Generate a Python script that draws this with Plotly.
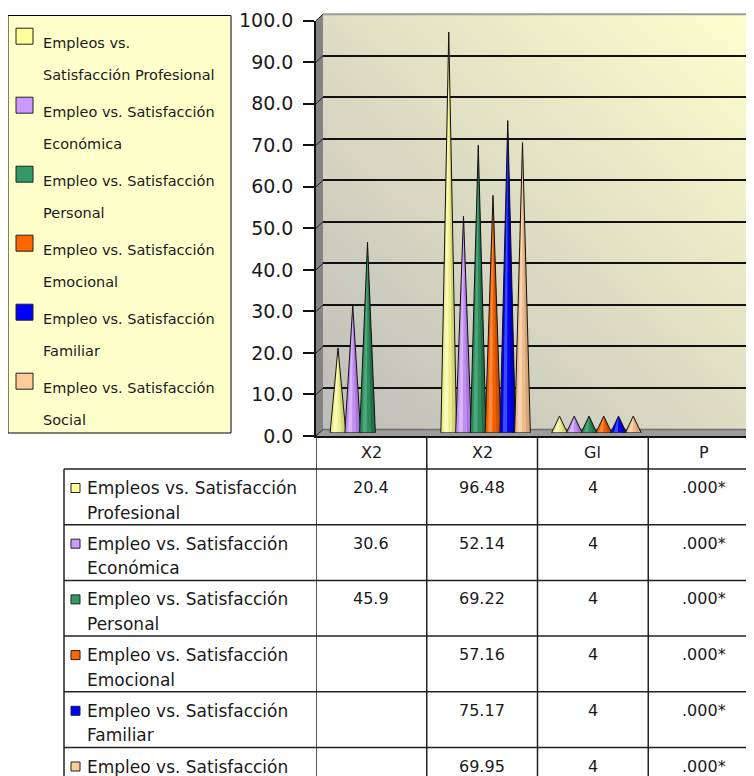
import base64
import struct
import zlib
import plotly.graph_objects as go

# ---------------- data ----------------
categories = ["X2", "X2", "Gl", "P"]
legend_labels = [
    ("Empleos vs.", "Satisfacción Profesional"),
    ("Empleo vs. Satisfacción", "Económica"),
    ("Empleo vs. Satisfacción", "Personal"),
    ("Empleo vs. Satisfacción", "Emocional"),
    ("Empleo vs. Satisfacción", "Familiar"),
    ("Empleo vs. Satisfacción", "Social"),
]
table_labels = [
    ("Empleos vs. Satisfacción", "Profesional"),
    ("Empleo vs. Satisfacción", "Económica"),
    ("Empleo vs. Satisfacción", "Personal"),
    ("Empleo vs. Satisfacción", "Emocional"),
    ("Empleo vs. Satisfacción", "Familiar"),
    ("Empleo vs. Satisfacción", "Social"),
]
chi2_first = [20.4, 30.6, 45.9, None, None, None]
chi2_second = [96.48, 52.14, 69.22, 57.16, 75.17, 69.95]
gl_values = [4, 4, 4, 4, 4, 4]
p_values = [0, 0, 0, 0, 0, 0]
p_labels = [".000*", ".000*", ".000*", ".000*", ".000*", ".000*"]
y_ticks = [0, 10, 20, 30, 40, 50, 60, 70, 80, 90, 100]

legend_colors = ["#FFFF99", "#CC99FF", "#339966", "#FF6600", "#0000FF", "#FFCC99"]
cone_base = ["#EDED8E", "#C08EEE", "#2F8A5C", "#F06000", "#0000EE", "#EEBC8C"]
cone_light = ["#FAFAB8", "#D9B5FF", "#4BA87A", "#FF8A3D", "#3A4BFF", "#FAD5B0"]
cone_dark = ["#D2D276", "#A877D8", "#236E48", "#CC4E00", "#0000B8", "#D6A676"]

columns = [chi2_first, chi2_second, gl_values, p_values]

# ---------------- geometry (screen pixels; page has an 8px body margin) ----------------
W, H = 754, 776
OFF = 8
FONT = "DejaVu Sans"
TXT = "#1a1a1a"


def px(x):
    return (x - OFF) / W


def py(y):
    return 1 - (y - OFF) / H


S = 4.153          # pixels per unit of value
FX, FY = 316, 436  # front-left-bottom corner
FX_END = 759       # right end of the category axis
CAT_W = (FX_END - FX) / 4
DX, DY = 7, 6.5    # depth offset of back wall

front_dom_x = [px(FX), px(FX_END)]
front_dom_y = [py(FY), py(FY - 100 * S)]
wall_dom_x = [px(FX + DX), 1]
wall_dom_y = [py(FY - DY), py(FY - DY - 100 * S)]
mid_dom_x = [px(FX + DX / 2), 1]
mid_dom_y = [py(FY - DY / 2), py(FY - DY / 2 - 100 * S)]
RIGHT = W + OFF    # screen x of the figure's right edge
BOTTOM = H + OFF   # screen y of the figure's bottom edge


def gradient_png(w, h, c0, c1):
    rows = []
    for j in range(h):
        row = bytearray([0])
        for i in range(w):
            t = (i / (w - 1) + (1 - j / (h - 1))) / 2
            for a, b in zip(c0, c1):
                row.append(int(round(a + (b - a) * t)))
        rows.append(bytes(row))
    raw = b"".join(rows)

    def chunk(tag, data):
        return (struct.pack(">I", len(data)) + tag + data
                + struct.pack(">I", zlib.crc32(tag + data) & 0xFFFFFFFF))

    png = (b"\x89PNG\r\n\x1a\n"
           + chunk(b"IHDR", struct.pack(">IIBBBBB", w, h, 8, 2, 0, 0, 0))
           + chunk(b"IDAT", zlib.compress(raw))
           + chunk(b"IEND", b""))
    return "data:image/png;base64," + base64.b64encode(png).decode()


fig = go.Figure()

fig.add_trace(go.Scatter(x=[None], y=[None], xaxis="x", yaxis="y",
                         showlegend=False, hoverinfo="skip"))
fig.add_trace(go.Scatter(x=[None], y=[None], xaxis="x2", yaxis="y2",
                         showlegend=False, hoverinfo="skip"))

# ---------------- cones ----------------
n_series = len(legend_labels)
d = 0.1332
hw = 0.071
for k in range(n_series):
    bx, by, lx, ly, rx, ry = [], [], [], [], [], []
    for i, col in enumerate(columns):
        v = col[k]
        if v is None or v <= 0:
            continue
        xc = i + 0.5 + (k - (n_series - 1) / 2) * d
        bx += [xc - hw, xc, xc + hw, xc - hw, None]
        by += [0, v, 0, 0, None]
        lx += [xc - 0.62 * hw, xc, xc - 0.08 * hw, None]
        ly += [0, v, 0, None]
        rx += [xc + 0.45 * hw, xc, xc + hw, None]
        ry += [0, v, 0, None]
    if not bx:
        continue
    fig.add_trace(go.Scatter(x=bx, y=by, xaxis="x3", yaxis="y3", mode="lines",
                             fill="toself", fillcolor=cone_base[k],
                             line=dict(width=0, color=cone_base[k]),
                             showlegend=False, hoverinfo="skip"))
    fig.add_trace(go.Scatter(x=lx, y=ly, xaxis="x3", yaxis="y3", mode="lines",
                             fill="toself", fillcolor=cone_light[k],
                             line=dict(width=0, color=cone_light[k]),
                             showlegend=False, hoverinfo="skip"))
    fig.add_trace(go.Scatter(x=rx, y=ry, xaxis="x3", yaxis="y3", mode="lines",
                             fill="toself", fillcolor=cone_dark[k],
                             line=dict(width=0, color=cone_dark[k]),
                             showlegend=False, hoverinfo="skip"))
    fig.add_trace(go.Scatter(x=bx, y=by, xaxis="x3", yaxis="y3", mode="lines",
                             line=dict(width=1, color="#111111"),
                             showlegend=False, hoverinfo="skip"))

shapes = []
annotations = []

# ---------------- 3D frame ----------------
shapes.append(dict(type="path", xref="paper", yref="paper", layer="below",
                   path=(f"M {px(FX)},{py(FY)} L {px(FX + DX)},{py(FY - DY)} "
                         f"L 1,{py(FY - DY)} L 1,{py(FY)} Z"),
                   fillcolor="#9C9C9C", line=dict(width=0)))
shapes.append(dict(type="line", xref="paper", yref="paper", layer="below",
                   x0=px(FX + DX), x1=1, y0=py(FY - DY), y1=py(FY - DY),
                   line=dict(color="#6E6E6E", width=1.5)))
shapes.append(dict(type="path", xref="paper", yref="paper", layer="below",
                   path=(f"M {px(FX)},{py(FY)} L {px(FX)},{py(FY - 100 * S)} "
                         f"L {px(FX + DX)},{py(FY - DY - 100 * S)} "
                         f"L {px(FX + DX)},{py(FY - DY)} Z"),
                   fillcolor="#838383", line=dict(width=0)))
shapes.append(dict(type="line", xref="paper", yref="paper", layer="below",
                   x0=px(FX + DX), x1=1,
                   y0=py(FY - DY - 100 * S), y1=py(FY - DY - 100 * S),
                   line=dict(color="#9A9A9A", width=2)))
for v in y_ticks:
    shapes.append(dict(type="line", xref="paper", yref="paper", layer="below",
                       x0=px(FX), y0=py(FY - v * S),
                       x1=px(FX + DX), y1=py(FY - DY - v * S),
                       line=dict(color="#222222", width=1)))

# ---------------- legend ----------------
shapes.append(dict(type="rect", xref="paper", yref="paper",
                   x0=px(8), x1=px(231), y0=py(15.5), y1=py(433),
                   fillcolor="#FFFFCC", line=dict(color="#000000", width=1)))
for k, (l1, l2) in enumerate(legend_labels):
    yc = 42.7 + 69 * k
    shapes.append(dict(type="rect", xref="paper", yref="paper",
                       x0=px(16), x1=px(33), y0=py(yc - 14.5), y1=py(yc + 1.5),
                       fillcolor=legend_colors[k],
                       line=dict(color="#222222", width=1)))
    annotations.append(dict(text=l1, x=px(41), y=py(yc), xref="paper", yref="paper",
                            xanchor="left", yanchor="middle", showarrow=False,
                            font=dict(family=FONT, size=14.5, color=TXT)))
    annotations.append(dict(text=l2, x=px(41), y=py(yc + 32.5), xref="paper",
                            yref="paper", xanchor="left", yanchor="middle",
                            showarrow=False,
                            font=dict(family=FONT, size=14.5, color=TXT)))

# ---------------- data table ----------------
TABLE_TOP = 469
ROW_H = 55.7
LINE = dict(color="#222222", width=1.5)
for i in range(len(categories)):
    shapes.append(dict(type="line", xref="x2", yref="paper", x0=i, x1=i,
                       y0=py(FY), y1=0, line=LINE))
    annotations.append(dict(text=categories[i], x=i + 0.5, y=py(452), xref="x2",
                            yref="paper", xanchor="center", yanchor="middle",
                            showarrow=False,
                            font=dict(family=FONT, size=16, color=TXT)))
shapes.append(dict(type="line", xref="paper", yref="paper", x0=px(64), x1=px(64),
                   y0=py(TABLE_TOP), y1=0, line=LINE))
for r in range(n_series + 1):
    yl = TABLE_TOP + r * ROW_H
    if yl > BOTTOM:
        break
    shapes.append(dict(type="line", xref="paper", yref="paper", x0=px(64), x1=1,
                       y0=py(yl), y1=py(yl), line=LINE))


def fmt(v):
    return "" if v is None else f"{v:g}"


def table_text(text, x, xref, y_screen, xanchor, size):
    # rows continue past the bottom of the figure; only lines inside it are drawn
    if y_screen > BOTTOM:
        return
    annotations.append(dict(text=text, x=x, y=py(y_screen), xref=xref,
                            yref="paper", xanchor=xanchor, yanchor="middle",
                            showarrow=False,
                            font=dict(family=FONT, size=size, color=TXT)))


for k in range(n_series):
    top = TABLE_TOP + k * ROW_H
    l1, l2 = table_labels[k]
    shapes.append(dict(type="rect", xref="paper", yref="paper",
                       x0=px(71), x1=px(80), y0=py(top + 23.5), y1=py(top + 14.5),
                       fillcolor=legend_colors[k],
                       line=dict(color="#222222", width=1)))
    table_text(l1, px(85), "paper", top + 19, "left", 17)
    table_text(l2, px(85), "paper", top + 43.5, "left", 17)
    cells = [fmt(chi2_first[k]), fmt(chi2_second[k]), fmt(gl_values[k]), p_labels[k]]
    for i, txt in enumerate(cells):
        if txt:
            table_text(txt, i + 0.5, "x2", top + 18.5, "center", 16)

# ---------------- layout ----------------
wall_img = gradient_png(64, 64, (190, 190, 186), (255, 255, 206))

fig.update_layout(
    width=W, height=H,
    margin=dict(l=0, r=0, t=0, b=0, pad=0),
    paper_bgcolor="#FFFFFF",
    plot_bgcolor="rgba(0,0,0,0)",
    showlegend=False,
    images=[dict(source=wall_img, xref="paper", yref="paper",
                 x=wall_dom_x[0], y=wall_dom_y[1],
                 sizex=wall_dom_x[1] - wall_dom_x[0],
                 sizey=wall_dom_y[1] - wall_dom_y[0],
                 sizing="stretch", xanchor="left", yanchor="top",
                 layer="below")],
    xaxis=dict(domain=wall_dom_x, range=[0, 1], showgrid=False, zeroline=False,
               showticklabels=False, ticks="", showline=False, anchor="y",
               automargin=False),
    yaxis=dict(domain=wall_dom_y, range=[0, 100], tickvals=y_ticks[1:-1],
               showgrid=True, gridcolor="#111111", gridwidth=1.5, zeroline=False,
               showticklabels=False, ticks="", showline=False, anchor="x",
               automargin=False),
    xaxis2=dict(domain=front_dom_x, range=[0, 4], showgrid=False,
                zeroline=False, showticklabels=False, ticks="", showline=True,
                linecolor="#111111", linewidth=1.5, anchor="y2", automargin=False),
    yaxis2=dict(domain=front_dom_y, range=[0, 100], tickvals=y_ticks,
                tickformat=".1f", ticks="outside", ticklen=11, tickwidth=1.5,
                tickcolor="#111111", showline=True, linecolor="#111111",
                linewidth=1.5, showgrid=False, zeroline=False, anchor="x2",
                ticklabelstandoff=6, automargin=False,
                tickfont=dict(family=FONT, size=19, color=TXT)),
    xaxis3=dict(domain=mid_dom_x, range=[0, (RIGHT - FX - DX / 2) / CAT_W],
                visible=False, anchor="y3", automargin=False),
    yaxis3=dict(domain=mid_dom_y, range=[0, 100], visible=False, anchor="x3",
                automargin=False),
    shapes=shapes,
    annotations=annotations,
)

fig.write_html("out.html")
